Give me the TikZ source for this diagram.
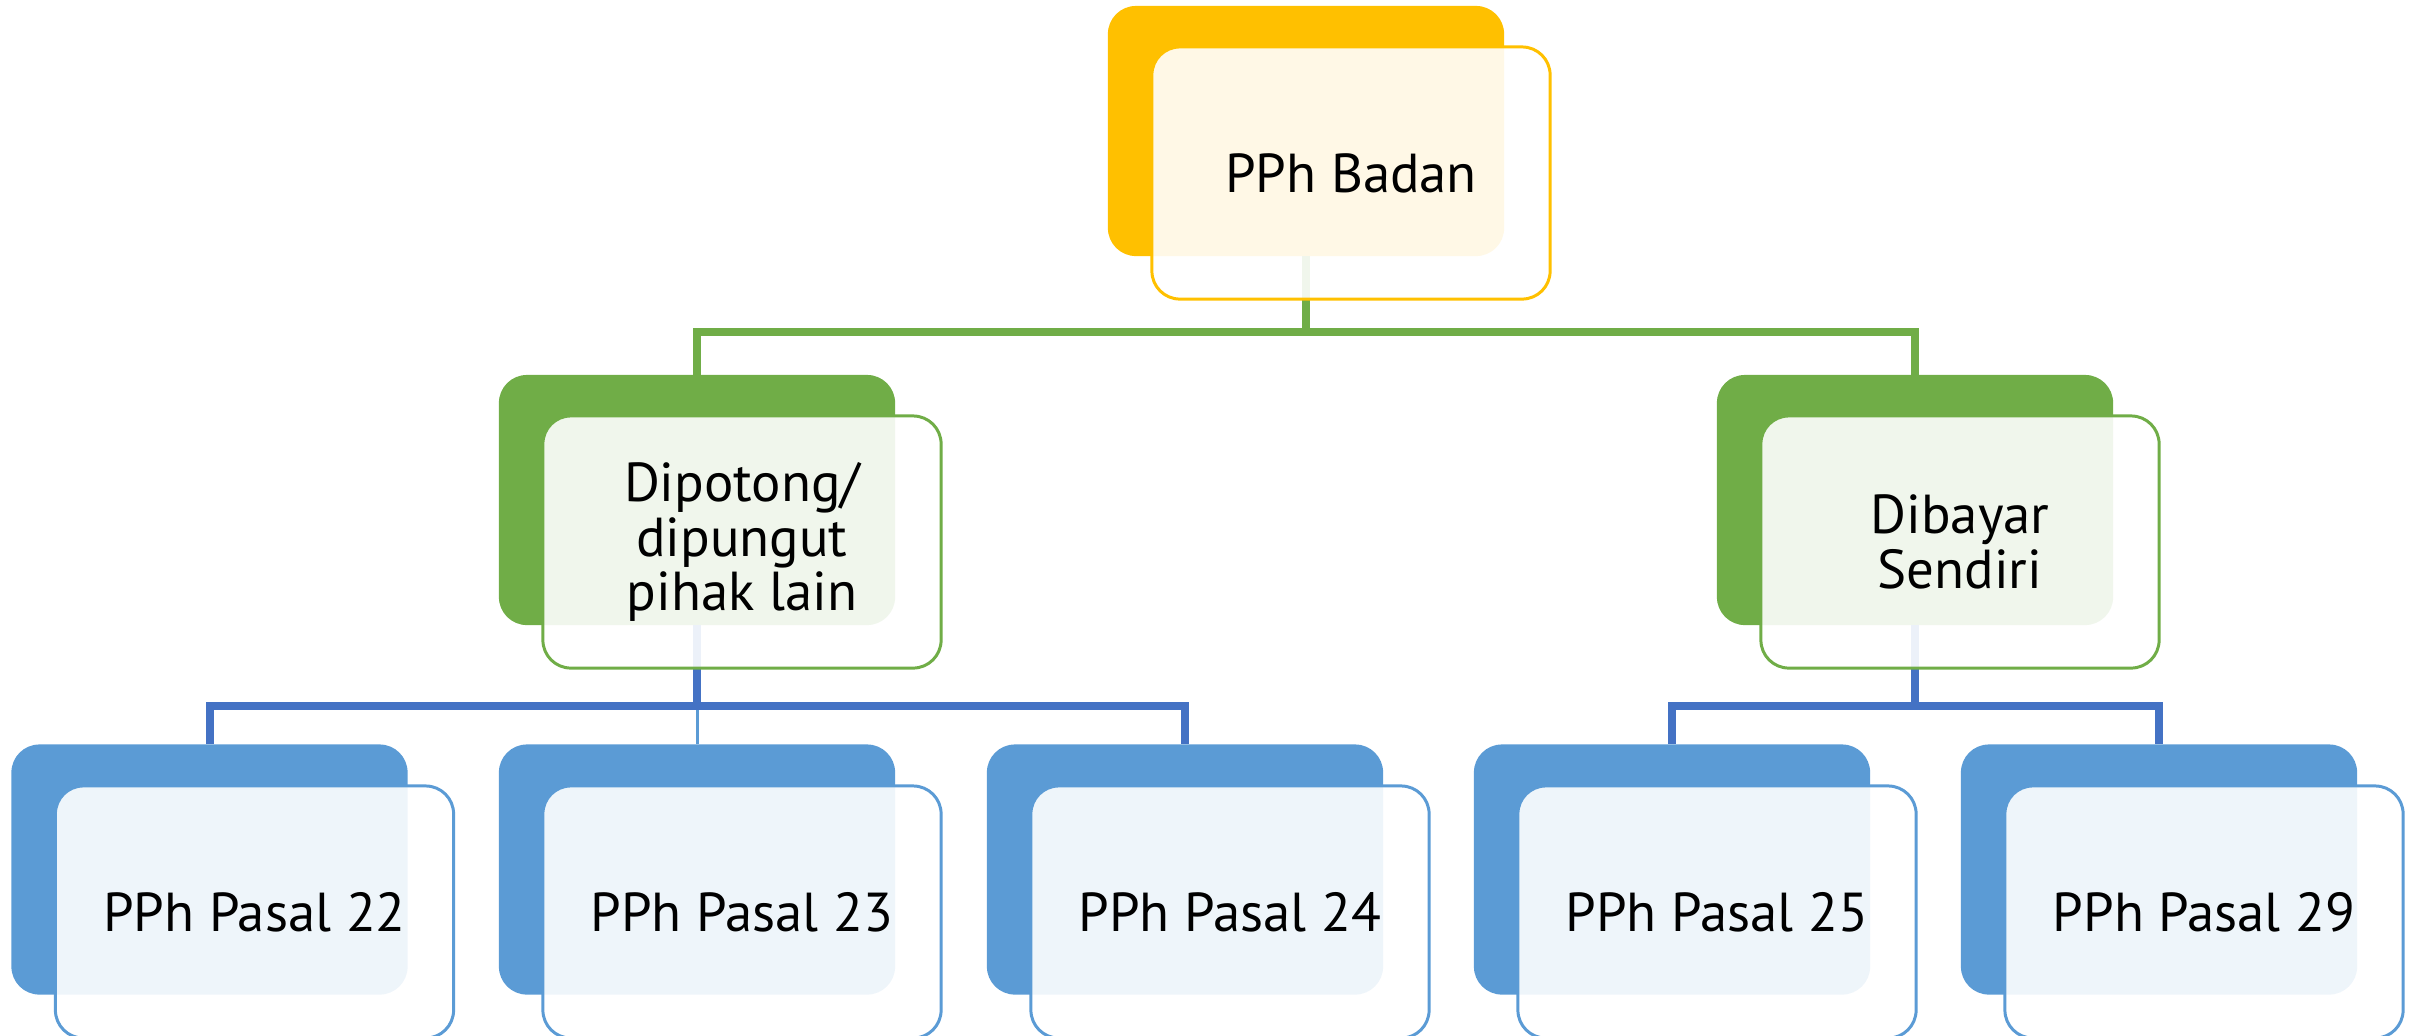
\documentclass[tikz,border=0pt]{standalone}
\usepackage{fontspec}
\setmainfont{PT Sans}
\definecolor{kuning}{HTML}{FFC000}
\definecolor{hijau}{HTML}{70AD47}
\definecolor{biru}{HTML}{5B9BD5}
\definecolor{birutua}{HTML}{4472C4}
\begin{document}
\begin{tikzpicture}[x=0.01cm,y=-0.01cm,
	belakang/.style={rectangle,rounded corners=0.28cm,fill=#1,minimum width=3.96cm,minimum height=2.5cm,inner sep=0pt,outer sep=0pt},
	depan/.style={rectangle,rounded corners=0.28cm,draw=#1,line width=0.85pt,fill=white,fill opacity=0.9,text opacity=1,minimum width=3.98cm,minimum height=2.52cm,inner sep=0pt,align=center,font=\fontsize{15.6}{15.6}\selectfont},
	garis/.style={line width=0.08cm,draw=#1}]
				\clip (0,0) rectangle (2412,1035);
				\node[belakang=kuning] (badan-b) at (1306,131) {};
				\node[belakang=hijau] (potong-b) at (697,500) {};
				\node[belakang=hijau] (bayar-b) at (1915,500) {};
				\node[belakang=biru] (p22-b) at (209.5,869.5) {};
				\node[belakang=biru] (p23-b) at (697,869.5) {};
				\node[belakang=biru] (p24-b) at (1185,869.5) {};
				\node[belakang=biru] (p25-b) at (1672,869.5) {};
				\node[belakang=biru] (p29-b) at (2159,869.5) {};
				\draw[garis=hijau] (badan-b.south) -- ++(0,76) -| (potong-b.north);
				\draw[garis=hijau] (badan-b.south) -- ++(0,76) -| (bayar-b.north);
				\draw[biru,line width=0.03cm] (potong-b.south) ++(0,81) -- (p23-b.north);
				\draw[garis=birutua] (potong-b.south) -- ++(0,81) -| (p22-b.north);
				\draw[garis=birutua] (potong-b.south) -- ++(0,81) -| (p24-b.north);
				\draw[garis=birutua] (bayar-b.south) -- ++(0,81) -| (p25-b.north);
				\draw[garis=birutua] (bayar-b.south) -- ++(0,81) -| (p29-b.north);
				\node[depan=kuning] (badan) at (1351,173) {PPh Badan};
				\node[depan=hijau] (potong) at (742,542) {Dipotong/\\dipungut\\pihak lain};
				\node[depan=hijau] (bayar) at (1960,542) {Dibayar\\Sendiri};
				\node[depan=biru] (p22) at (254.5,912) {PPh Pasal 22};
				\node[depan=biru] (p23) at (742,912) {PPh Pasal 23};
				\node[depan=biru] (p24) at (1230,912) {PPh Pasal 24};
				\node[depan=biru] (p25) at (1717,912) {PPh Pasal 25};
				\node[depan=biru] (p29) at (2204,912) {PPh Pasal 29};
\end{tikzpicture}
\end{document}
